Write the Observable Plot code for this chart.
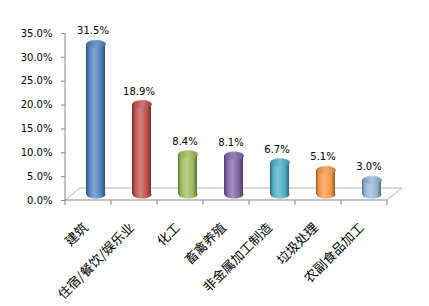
<!DOCTYPE html>
<html><head><meta charset="utf-8">
<script src="https://cdn.jsdelivr.net/npm/d3@7"></script>
<script src="https://cdn.jsdelivr.net/npm/@observablehq/plot@0.6"></script>
<style>body{margin:0;background:#fff}</style>
</head><body><div id="chart"></div>
<script>
const categories = ["建筑", "住宿/餐饮/娱乐业", "化工", "畜禽养殖", "非金属加工制造", "垃圾处理", "农副食品加工"];
const values = [31.5, 18.9, 8.4, 8.1, 6.7, 5.1, 3.0];
const yTicks = [0, 5, 10, 15, 20, 25, 30, 35];
const baseColors = ["#4F81BD", "#C0504D", "#9BBB59", "#8064A2", "#4BACC6", "#F79646", "#95B3D7"];

const rows = categories.map((c, i) => ({category: c, value: values[i], i}));

const ellipse = {
  draw(ctx, size) {
    const rx = Math.sqrt(size / Math.PI), ry = rx * 0.42, k = 0.5523;
    ctx.moveTo(-rx, 0);
    ctx.bezierCurveTo(-rx, -ry * k, -rx * k, -ry, 0, -ry);
    ctx.bezierCurveTo(rx * k, -ry, rx, -ry * k, rx, 0);
    ctx.bezierCurveTo(rx, ry * k, rx * k, ry, 0, ry);
    ctx.bezierCurveTo(-rx * k, ry, -rx, ry * k, -rx, 0);
    ctx.closePath();
  }
};

const DX = 7, DY = -6, R = 9.5;

function floor(index, scales, values, dims) {
  const g = d3.create("svg:g").attr("fill", "none");
  const x0 = dims.marginLeft, x1 = dims.width - dims.marginRight;
  const y0 = dims.height - dims.marginBottom, yt = dims.marginTop;
  const ox = 15, oy = -12;
  g.append("path").attr("stroke", "#b3b3b3").attr("d",
    `M${x0},${y0}L${x0 + ox},${y0 + oy}L${x1 + ox},${y0 + oy}L${x1},${y0}`);
  g.append("path").attr("stroke", "#868686").attr("d", `M${x0},${yt}V${y0}H${x1}`);
  const n = categories.length, step = (x1 - x0) / n;
  for (let i = 0; i <= n; i++) {
    g.append("path").attr("stroke", "#868686").attr("d", `M${x0 + i * step},${y0}V${y0 + 5}`);
  }
  return g.node();
}

const chart = Plot.plot({
  width: 429, height: 306,
  marginLeft: 65, marginRight: 42, marginTop: 33, marginBottom: 106,
  style: {fontFamily: "DejaVu Sans", fontSize: "10px", background: "#fff", color: "#000"},
  x: {type: "band", domain: categories, paddingInner: 0.587, paddingOuter: 0.2935, axis: null},
  y: {domain: [0, 35], axis: null},
  color: {type: "identity"},
  marks: [
    floor,
    Plot.axisY({ticks: yTicks, tickFormat: d => d.toFixed(1) + "%", tickSize: 4, tickPadding: 9,
      stroke: "#868686", fill: "#000", fontSize: 10, label: null}),
    Plot.dot(rows, {x: "category", y: () => 0, symbol: ellipse, r: R, fill: d => `url(#g${d.i})`, stroke: "none", dx: DX, dy: DY}),
    Plot.barY(rows, {x: "category", y: "value", fill: d => `url(#g${d.i})`, dx: DX, dy: DY}),
    Plot.dot(rows, {x: "category", y: "value", symbol: ellipse, r: R, fill: d => `url(#t${d.i})`, stroke: d => `url(#g${d.i})`, strokeWidth: 0.6, dx: DX, dy: DY}),
    Plot.text(rows, {x: "category", y: "value", text: d => d.value.toFixed(1) + "%", dx: 4, dy: -19, fontSize: 10, fill: "#000"}),
    Plot.text(rows, {x: "category", y: () => 0, text: "category", rotate: -45, textAnchor: "end",
      dx: -3, dy: 25, fontSize: 13, fontFamily: "Noto Sans CJK SC", fill: "#000"})
  ]
});

// gradients
const svg = d3.select(chart);
const defs = svg.insert("defs", ":first-child");
baseColors.forEach((c, i) => {
  const dark = d3.interpolateRgb(c, "#000")(0.4);
  const light = d3.interpolateRgb(c, "#fff")(0.3);
  const g = defs.append("linearGradient").attr("id", `g${i}`).attr("x1", 0).attr("x2", 1).attr("y1", 0).attr("y2", 0);
  [[0, dark], [0.15, c], [0.42, light], [0.78, c], [1, dark]].forEach(([o, col]) =>
    g.append("stop").attr("offset", o).attr("stop-color", col));
  const t = defs.append("linearGradient").attr("id", `t${i}`).attr("x1", 0).attr("x2", 1).attr("y1", 0).attr("y2", 0);
  [[0, d3.interpolateRgb(c, "#000")(0.15)], [0.5, d3.interpolateRgb(c, "#fff")(0.2)], [1, d3.interpolateRgb(c, "#000")(0.15)]].forEach(([o, col]) =>
    t.append("stop").attr("offset", o).attr("stop-color", col));
});
document.getElementById("chart").appendChild(chart);
</script></body></html>
